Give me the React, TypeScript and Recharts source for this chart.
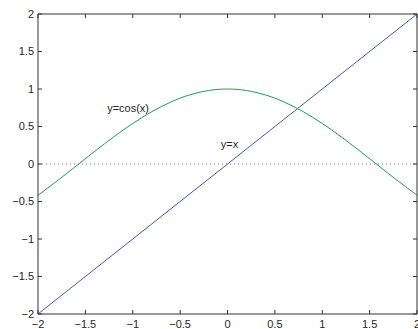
import React from "react";
import {
  ComposedChart,
  Line,
  XAxis,
  YAxis,
  ReferenceLine,
  ReferenceDot,
} from "recharts";

// values, x in steps of 0.1
const cosX = [
  -2, -1.9, -1.8, -1.7, -1.6, -1.5, -1.4, -1.3, -1.2, -1.1, -1, -0.9, -0.8,
  -0.7, -0.6, -0.5, -0.4, -0.3, -0.2, -0.1, 0, 0.1, 0.2, 0.3, 0.4, 0.5, 0.6,
  0.7, 0.8, 0.9, 1, 1.1, 1.2, 1.3, 1.4, 1.5, 1.6, 1.7, 1.8, 1.9, 2,
];
const cosY = [
  -0.416, -0.323, -0.227, -0.129, -0.029, 0.071, 0.17, 0.267, 0.362, 0.454,
  0.54, 0.622, 0.697, 0.765, 0.825, 0.878, 0.921, 0.955, 0.98, 0.995, 1,
  0.995, 0.98, 0.955, 0.921, 0.878, 0.825, 0.765, 0.697, 0.622, 0.54, 0.454,
  0.362, 0.267, 0.17, 0.071, -0.029, -0.129, -0.227, -0.323, -0.416,
];
const lineX = [-2, 2];
const lineY = [-2, 2];

const xTicks = [-2, -1.5, -1, -0.5, 0, 0.5, 1, 1.5, 2];
const yTicks = [-2, -1.5, -1, -0.5, 0, 0.5, 1, 1.5, 2];

const cosData = cosX.map((x, i) => ({ x, y: cosY[i] }));
const lineData = lineX.map((x, i) => ({ x, y: lineY[i] }));

const FONT = "'Liberation Sans', Arial, Helvetica, sans-serif";
const AXIS = "#333";
const TEXT = "#262626";

const fmt = (v: number) => String(v).replace("-", "\u2212");

// MATLAB-style ticks: pointing into the plot box
function BottomTick(props: any) {
  const { x, y, payload } = props;
  return (
    <g>
      <line x1={x} y1={y} x2={x} y2={y - 4} stroke={AXIS} />
      <text x={x} y={y + 14} textAnchor="middle" fontSize={11} fill={TEXT} fontFamily={FONT}>
        {fmt(payload.value)}
      </text>
    </g>
  );
}

function TopTick(props: any) {
  const { x, y } = props;
  return <line x1={x} y1={y} x2={x} y2={y + 4} stroke={AXIS} />;
}

function LeftTick(props: any) {
  const { x, y, payload } = props;
  return (
    <g>
      <line x1={x} y1={y} x2={x + 4} y2={y} stroke={AXIS} />
      <text x={x - 4} y={y} dy="0.35em" textAnchor="end" fontSize={11} fill={TEXT} fontFamily={FONT}>
        {fmt(payload.value)}
      </text>
    </g>
  );
}

function RightTick(props: any) {
  const { x, y } = props;
  return <line x1={x} y1={y} x2={x - 4} y2={y} stroke={AXIS} />;
}

const textLabel = (label: string) => (props: any) => (
  <text x={props.cx} y={props.cy} dy="0.35em" fontSize={11} fill={TEXT} fontFamily={FONT}>
    {label}
  </text>
);

export default function App() {
  return (
    <div style={{ position: "absolute", left: 0, top: 0, background: "#fff" }}>
      <ComposedChart
        width={418}
        height={329}
        margin={{ top: 13, right: 0, bottom: 0, left: 0 }}
      >
        <XAxis
          xAxisId="b"
          dataKey="x"
          type="number"
          domain={[-2, 2]}
          ticks={xTicks}
          height={15}
          tickSize={0}
          tickMargin={0}
          tickLine={false}
          axisLine={{ stroke: AXIS }}
          tick={BottomTick}
          interval={0}
        />
        <XAxis
          xAxisId="t"
          orientation="top"
          dataKey="x"
          type="number"
          domain={[-2, 2]}
          ticks={xTicks}
          height={1}
          tickSize={0}
          tickMargin={0}
          tickLine={false}
          axisLine={{ stroke: AXIS }}
          tick={TopTick}
          interval={0}
        />
        <YAxis
          yAxisId="l"
          type="number"
          domain={[-2, 2]}
          ticks={yTicks}
          width={38}
          tickSize={0}
          tickMargin={0}
          tickLine={false}
          axisLine={{ stroke: AXIS }}
          tick={LeftTick}
          interval={0}
        />
        <YAxis
          yAxisId="r"
          orientation="right"
          type="number"
          domain={[-2, 2]}
          ticks={yTicks}
          width={1}
          tickSize={0}
          tickMargin={0}
          tickLine={false}
          axisLine={{ stroke: AXIS }}
          tick={RightTick}
          interval={0}
        />
        <ReferenceLine
          xAxisId="b"
          yAxisId="l"
          y={0}
          stroke="#777"
          strokeDasharray="1 3"
        />
        {/* y=x sits on the top/right axes (same domain) so they get ticks too */}
        <Line
          xAxisId="t"
          yAxisId="r"
          data={lineData}
          dataKey="y"
          stroke="#3a5bbf"
          strokeWidth={1}
          dot={false}
          activeDot={false}
          type="linear"
          isAnimationActive={false}
        />
        <Line
          xAxisId="b"
          yAxisId="l"
          data={cosData}
          dataKey="y"
          stroke="#22995a"
          strokeWidth={1}
          dot={false}
          activeDot={false}
          type="monotone"
          isAnimationActive={false}
        />
        <ReferenceDot
          xAxisId="b"
          yAxisId="l"
          x={-1.27}
          y={0.75}
          r={0}
          shape={textLabel("y=cos(x)")}
        />
        <ReferenceDot
          xAxisId="b"
          yAxisId="l"
          x={-0.07}
          y={0.26}
          r={0}
          shape={textLabel("y=x")}
        />
      </ComposedChart>
    </div>
  );
}
